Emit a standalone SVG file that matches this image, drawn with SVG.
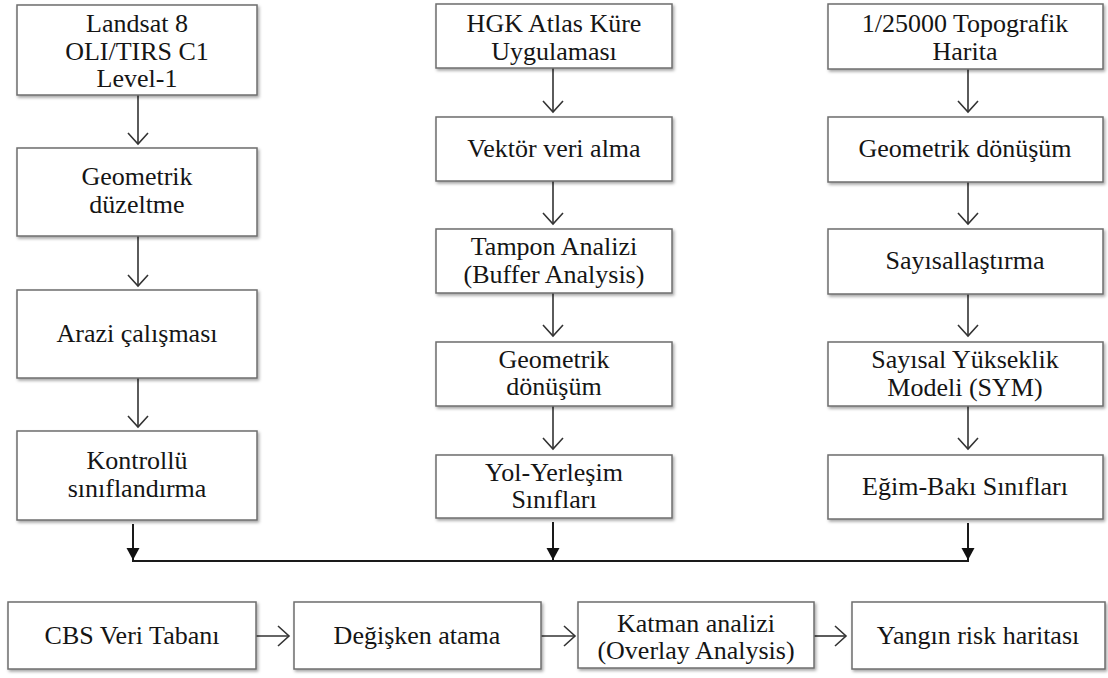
<svg xmlns="http://www.w3.org/2000/svg" width="1108" height="678" viewBox="0 0 1108 678">
<style>
.box{fill:#fff;stroke:#6e6e6e;stroke-width:1.5;filter:url(#sh)}
.t{font-family:'Liberation Serif',serif;font-size:26px;fill:#151515;text-anchor:middle}
.ln{stroke:#333;stroke-width:1.6;fill:none}
.lb{stroke:#1a1a1a;stroke-width:2;fill:none}
</style>
<defs>
<filter id="sh" x="-5%" y="-10%" width="115%" height="130%">
<feDropShadow dx="1.5" dy="2" stdDeviation="1.5" flood-color="#000" flood-opacity="0.35"/>
</filter>
<marker id="open" markerUnits="userSpaceOnUse" markerWidth="24" markerHeight="24" viewBox="-12 -12 24 24" refX="0" refY="0" orient="auto">
<path d="M-11,-10 L0,0 L-11,10" fill="none" stroke="#333" stroke-width="1.6"/>
</marker>
<marker id="fill" markerUnits="userSpaceOnUse" markerWidth="24" markerHeight="24" viewBox="-12 -12 24 24" refX="0" refY="0" orient="auto">
<path d="M-12,-6.5 L0,0 L-12,6.5 Z" fill="#111"/>
</marker>
</defs>
<g id="connectors">
<line class="ln" x1="138" y1="95" x2="138" y2="144" marker-end="url(#open)"/>
<line class="ln" x1="138" y1="236" x2="138" y2="286" marker-end="url(#open)"/>
<line class="ln" x1="138" y1="378" x2="138" y2="427" marker-end="url(#open)"/>
<line class="ln" x1="553" y1="68" x2="553" y2="112" marker-end="url(#open)"/>
<line class="ln" x1="553" y1="181" x2="553" y2="224" marker-end="url(#open)"/>
<line class="ln" x1="553" y1="293" x2="553" y2="336" marker-end="url(#open)"/>
<line class="ln" x1="553" y1="406" x2="553" y2="449" marker-end="url(#open)"/>
<line class="ln" x1="968" y1="69" x2="968" y2="112" marker-end="url(#open)"/>
<line class="ln" x1="968" y1="182" x2="968" y2="224" marker-end="url(#open)"/>
<line class="ln" x1="968" y1="294" x2="968" y2="336" marker-end="url(#open)"/>
<line class="ln" x1="968" y1="406" x2="968" y2="449" marker-end="url(#open)"/>
<line class="lb" x1="133" y1="524" x2="133" y2="560" marker-end="url(#fill)"/>
<line class="lb" x1="553" y1="522" x2="553" y2="560" marker-end="url(#fill)"/>
<line class="lb" x1="968" y1="523" x2="968" y2="560" marker-end="url(#fill)"/>
<line class="lb" x1="132" y1="561" x2="969" y2="561"/>
<line class="ln" x1="256" y1="636" x2="289" y2="636" marker-end="url(#open)"/>
<line class="ln" x1="541" y1="636" x2="575" y2="636" marker-end="url(#open)"/>
<line class="ln" x1="814" y1="636" x2="846" y2="636" marker-end="url(#open)"/>
</g>
<g id="n-landsat"><rect class="box" x="17" y="5" width="240" height="90"/>
<text class="t" x="137" y="32">Landsat 8</text><text class="t" x="137" y="60">OLI/TIRS C1</text><text class="t" x="137" y="87">Level-1</text></g>
<g id="n-geoduz"><rect class="box" x="17" y="148" width="240" height="88"/>
<text class="t" x="137" y="185">Geometrik</text><text class="t" x="137" y="213">düzeltme</text></g>
<g id="n-arazi"><rect class="box" x="17" y="290" width="240" height="88"/>
<text class="t" x="137" y="342">Arazi çalışması</text></g>
<g id="n-kontrol"><rect class="box" x="17" y="431" width="240" height="89"/>
<text class="t" x="137" y="469">Kontrollü</text><text class="t" x="137" y="497">sınıflandırma</text></g>
<g id="n-hgk"><rect class="box" x="436" y="4" width="236" height="64"/>
<text class="t" x="554" y="32">HGK Atlas Küre</text><text class="t" x="554" y="60">Uygulaması</text></g>
<g id="n-vektor"><rect class="box" x="436" y="117" width="236" height="64"/>
<text class="t" x="554" y="157">Vektör veri alma</text></g>
<g id="n-tampon"><rect class="box" x="436" y="229" width="236" height="64"/>
<text class="t" x="554" y="255">Tampon Analizi</text><text class="t" x="554" y="283">(Buffer Analysis)</text></g>
<g id="n-geodon-m"><rect class="box" x="436" y="342" width="236" height="64"/>
<text class="t" x="554" y="368">Geometrik</text><text class="t" x="554" y="395">dönüşüm</text></g>
<g id="n-yol"><rect class="box" x="436" y="455" width="236" height="63"/>
<text class="t" x="554" y="481">Yol-Yerleşim</text><text class="t" x="554" y="508">Sınıfları</text></g>
<g id="n-topo"><rect class="box" x="828" y="4" width="275" height="65"/>
<text class="t" x="965" y="32">1/25000 Topografik</text><text class="t" x="965" y="60">Harita</text></g>
<g id="n-geodon-r"><rect class="box" x="828" y="117" width="275" height="65"/>
<text class="t" x="965" y="157">Geometrik dönüşüm</text></g>
<g id="n-sayisal"><rect class="box" x="828" y="229" width="275" height="65"/>
<text class="t" x="965" y="269">Sayısallaştırma</text></g>
<g id="n-sym"><rect class="box" x="828" y="342" width="275" height="64"/>
<text class="t" x="965" y="368">Sayısal Yükseklik</text><text class="t" x="965" y="396">Modeli (SYM)</text></g>
<g id="n-egim"><rect class="box" x="828" y="455" width="275" height="64"/>
<text class="t" x="965" y="495">Eğim-Bakı Sınıfları</text></g>
<g id="n-cbs"><rect class="box" x="8" y="602" width="248" height="67"/>
<text class="t" x="132" y="644">CBS Veri Tabanı</text></g>
<g id="n-degisken"><rect class="box" x="294" y="602" width="247" height="67"/>
<text class="t" x="417" y="644">Değişken atama</text></g>
<g id="n-katman"><rect class="box" x="578" y="602" width="236" height="66"/>
<text class="t" x="696" y="632">Katman analizi</text><text class="t" x="696" y="659">(Overlay Analysis)</text></g>
<g id="n-yangin"><rect class="box" x="852" y="602" width="253" height="67"/>
<text class="t" x="978" y="644">Yangın risk haritası</text></g>
</svg>
